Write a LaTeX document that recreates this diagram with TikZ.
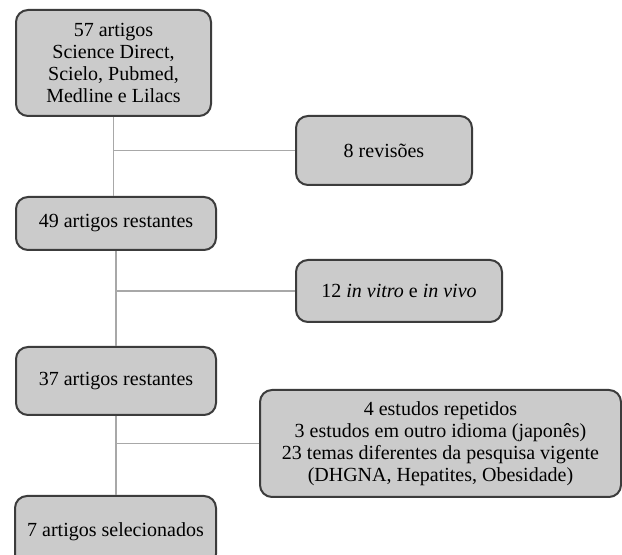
\documentclass[tikz,border=0pt]{standalone}
\usepackage{fontspec}
\setmainfont{Liberation Serif}
\definecolor{boxfill}{HTML}{CBCBCB}
\definecolor{boxline}{HTML}{3C3C3C}
\definecolor{connline}{HTML}{A8A8A8}
\tikzset{
  stepbox/.style={draw=boxline, line width=1.5pt, fill=boxfill, rounded corners=9pt,
    align=center, inner sep=0pt, font=\fontsize{15pt}{16.5pt}\selectfont, text=black},
  conn/.style={draw=connline, line width=1.2pt}
}
\begin{document}
\begin{tikzpicture}[x=0.75pt,y=-0.75pt]
\clip (0,0) rectangle (622,555);
\fill[white] (0,0) rectangle (622,555);
\node[stepbox, minimum width=146.25pt, minimum height=79.5pt] (b1) at (113.5,63)
  {57 artigos\\Science Direct,\\Scielo, Pubmed,\\Medline e Lilacs};
\node[stepbox, minimum width=132pt, minimum height=51.75pt] (b2) at (384,150.5) {8 revisões};
\node[stepbox, minimum width=150pt, minimum height=39.75pt] (b3) at (116,223.5) {49 artigos restantes};
\node[stepbox, minimum width=154.5pt, minimum height=46.5pt] (b4) at (399,291) {12 \textit{in vitro} e \textit{in vivo}};
\node[stepbox, minimum width=150pt, minimum height=51pt] (b5) at (116,381) {37 artigos restantes};
\node[stepbox, minimum width=270.75pt, minimum height=80.25pt] (b6) at (440.5,443.5)
  {4 estudos repetidos\\3 estudos em outro idioma (japonês)\\23 temas diferentes da pesquisa vigente\\(DHGNA, Hepatites, Obesidade)};
\node[stepbox, minimum width=150.75pt, minimum height=52.5pt, text depth=0pt] (b7) at (115.5,531) {\raisebox{2pt}{7 artigos selecionados}};
% connectors
\draw[conn] (b1.south) -- (b1.south |- b3.north);
\draw[conn] (b2.west) -- (b2.west -| b1.south);
\draw[conn] (b3.south) -- (b5.north);
\draw[conn] (b4.west) -- (b4.west -| b3.south);
\draw[conn] (b5.south) -- (b5.south |- b7.north);
\draw[conn] (b6.west) -- (b6.west -| b5.south);
\end{tikzpicture}
\end{document}
